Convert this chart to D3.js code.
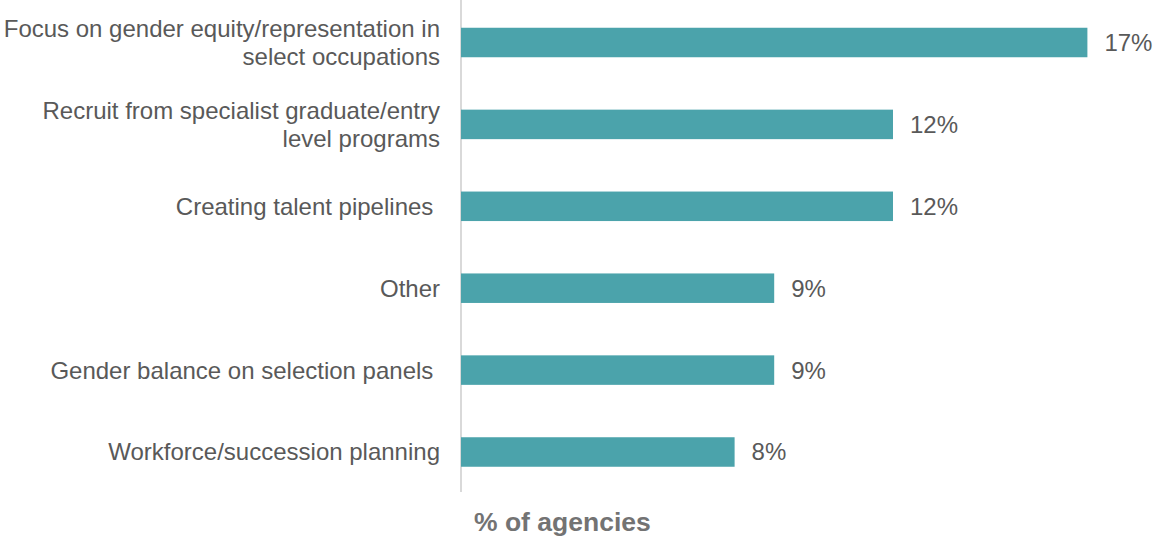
<!DOCTYPE html>
<html>
<head>
<meta charset="utf-8">
<script src="https://cdn.jsdelivr.net/npm/d3@7"></script>
<style>
  html, body { margin: 0; padding: 0; background: #ffffff; }
  svg { display: block; font-family: "Liberation Sans", Arial, sans-serif; }
  text { white-space: pre; }
</style>
</head>
<body>
<svg id="chart" width="1154" height="539"></svg>
<script>
// Category labels (each entry is a list of lines)
const categories = [
  ["Focus on gender equity/representation in", "select occupations"],
  ["Recruit from specialist graduate/entry", "level programs"],
  ["Creating talent pipelines "],
  ["Other"],
  ["Gender balance on selection panels "],
  ["Workforce/succession planning"]
];
// Share of agencies (%)
const values = [17.4, 12.0, 12.0, 8.7, 8.7, 7.6];
const axisTitle = "% of agencies";

const svg = d3.select("#chart");
const textColor = "#595959";
const barColor = "#4ba3ab";
const fontSize = 24;

const x = d3.scaleLinear().domain([0, 20]).range([461, 461 + 720]);
const y = d3.scalePoint().domain(d3.range(categories.length)).range([42.5, 452]);
const barH = 29.5;

// vertical category axis line
svg.append("line")
  .attr("x1", 461).attr("x2", 461)
  .attr("y1", 0).attr("y2", 492)
  .attr("stroke", "#d9d9d9").attr("stroke-width", 2);

// bars
svg.append("g").selectAll("rect")
  .data(values)
  .join("rect")
  .attr("x", x(0))
  .attr("y", (d, i) => y(i) - barH / 2)
  .attr("width", d => x(d) - x(0))
  .attr("height", barH)
  .attr("fill", barColor);

// value labels
svg.append("g").selectAll("text")
  .data(values)
  .join("text")
  .attr("x", d => x(d) + 17)
  .attr("y", (d, i) => y(i))
  .attr("dy", "0.35em")
  .attr("font-size", fontSize)
  .attr("fill", textColor)
  .text(d => d3.format(".0f")(d) + "%");

// category labels
const lineH = 28.5;
const catG = svg.append("g");
categories.forEach((lines, i) => {
  const t = catG.append("text")
    .attr("text-anchor", "end")
    .attr("font-size", fontSize)
    .attr("fill", textColor);
  const y0 = y(i) - (lines.length - 1) * lineH / 2;
  lines.forEach((ln, j) => {
    t.append("tspan")
      .attr("x", 440)
      .attr("y", y0 + j * lineH)
      .attr("dy", "0.35em")
      .text(ln);
  });
});

// axis title
svg.append("text")
  .attr("x", 474)
  .attr("y", 531)
  .attr("font-size", 26.5)
  .attr("font-weight", "bold")
  .attr("fill", "#737373")
  .text(axisTitle);
</script>
</body>
</html>
